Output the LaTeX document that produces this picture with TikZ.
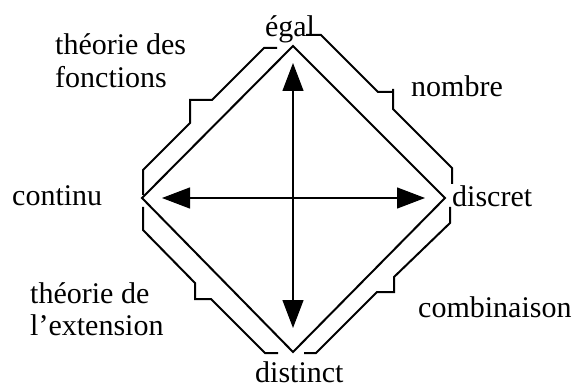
\documentclass[tikz,border=0pt]{standalone}
\usepackage{fontspec}
\setmainfont{Liberation Serif}
\usetikzlibrary{arrows.meta}
\begin{document}
\begin{tikzpicture}[x=1pt,y=-1pt,
  frame/.style={line width=2pt,line join=miter},
  axis/.style={line width=1.3pt,{Triangle[length=28pt,width=21pt]}-{Triangle[length=28pt,width=21pt]}},
  lbl/.style={inner sep=0pt,anchor=base west,font=\fontsize{30}{32}\selectfont}]
\useasboundingbox (0,0) rectangle (578,390);
% diamond corners
\coordinate (T) at (293,46);
\coordinate (B) at (293,352);
\coordinate (L) at (142,198);
\coordinate (R) at (445,198);
\draw[frame] (T) -- (R) -- (B) -- (L) -- cycle;
% outer stepped frames
\draw[frame] (143,195) -- (143,170) -- (190,123) -- (190,100) -- (212,100) -- (264,48) -- (277,48);
\draw[frame] (306,35) -- (321,35) -- (378,92) -- (393,92);
\draw[frame] (393,89) -- (393,109) -- (452,168) -- (452,184);
\draw[frame] (143,207) -- (143,230) -- (195,283) -- (195,299) -- (211,299) -- (265,353) -- (278,353);
\draw[frame] (450,207) -- (450,223) -- (394,277) -- (394,292) -- (377,292) -- (316,353) -- (304,353);
% arrows
\coordinate (aT) at (293,63);
\coordinate (aB) at (293,328);
\coordinate (aL) at (162,198);
\coordinate (aR) at (425,198);
\draw[axis] (aT) -- (aB);
\draw[axis] (aL) -- (aR);
% labels
\node[lbl,anchor=base] (egal) at (290,37) {égal};
\node[lbl] (tf1) at (55,55) {théorie des};
\node[lbl] (tf2) at (55,88) {fonctions};
\node[lbl] (nombre) at (411,97) {nombre};
\node[lbl] (continu) at (12,205) {continu};
\node[lbl] (discret) at (452,207) {discret};
\node[lbl] (te1) at (30,303) {théorie de};
\node[lbl] (te2) at (30,335) {l’extension};
\node[lbl] (comb) at (418,317) {combinaison};
\node[lbl] (distinct) at (255,382) {distinct};
\end{tikzpicture}
\end{document}
